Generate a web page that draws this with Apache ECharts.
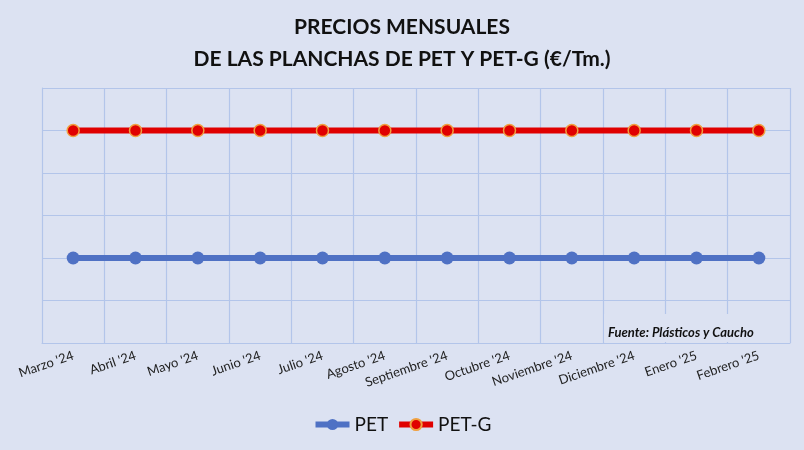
<!DOCTYPE html>
<html>
<head>
<meta charset="utf-8">
<script src="https://cdn.jsdelivr.net/npm/echarts@6/dist/echarts.min.js"></script>
<style>
  html, body { margin: 0; padding: 0; background: #dce2f2; }
  #chart { width: 804px; height: 450px; }
</style>
</head>
<body>
<div id="chart"></div>
<script>
// months shown on the x axis
const months = ["Marzo '24", "Abril '24", "Mayo '24", "Junio '24", "Julio '24", "Agosto '24",
  "Septiembre '24", "Octubre '24", "Noviembre '24", "Diciembre '24", "Enero '25", "Febrero '25"];

// price per series (€/Tm.), flat over the year
const pet = [2500, 2500, 2500, 2500, 2500, 2500, 2500, 2500, 2500, 2500, 2500, 2500];
const petG = [4000, 4000, 4000, 4000, 4000, 4000, 4000, 4000, 4000, 4000, 4000, 4000];

const gridColor = '#b3c5ea';
const font = 'Lato, "Noto Sans", sans-serif';

const chart = echarts.init(document.getElementById('chart'));

chart.setOption({
  backgroundColor: '#dce2f2',
  title: {
    text: 'PRECIOS MENSUALES\nDE LAS PLANCHAS DE PET Y PET-G (€/Tm.)',
    left: 'center',
    top: 6,
    textStyle: { fontFamily: font, fontSize: 21, fontWeight: 'bold', color: '#111', lineHeight: 32 }
  },
  legend: {
    bottom: 11,
    left: 'center',
    itemWidth: 34,
    itemHeight: 14,
    itemGap: 8,
    lineStyle: { width: 6 },
    textStyle: { fontFamily: font, fontSize: 19, color: '#111' },
    data: ['PET', 'PET-G']
  },
  grid: { left: 42, right: 14, top: 88, bottom: 107 },
  xAxis: {
    type: 'category',
    data: months,
    boundaryGap: true,
    axisLine: { lineStyle: { color: gridColor } },
    axisTick: { show: false },
    splitLine: { show: true, lineStyle: { color: gridColor, width: 1.2 } },
    axisLabel: {
      rotate: 19,
      margin: 12,
      interval: 0,
      fontFamily: font,
      fontSize: 13,
      color: '#222'
    }
  },
  yAxis: {
    type: 'value',
    min: 1500,
    max: 4500,
    interval: 500,
    axisLabel: { show: false },
    axisLine: { show: true, lineStyle: { color: gridColor } },
    axisTick: { show: false },
    splitLine: { lineStyle: { color: gridColor, width: 1.2 } }
  },
  series: [
    {
      name: 'PET',
      type: 'line',
      data: pet,
      symbol: 'circle',
      symbolSize: 13,
      lineStyle: { color: '#4f71c4', width: 6 },
      itemStyle: { color: '#4f71c4' }
    },
    {
      name: 'PET-G',
      type: 'line',
      data: petG,
      symbol: 'circle',
      symbolSize: 12,
      lineStyle: { color: '#e00000', width: 6 },
      itemStyle: { color: '#e00000', borderColor: '#f0a040', borderWidth: 1.5 }
    }
  ],
  graphic: [
    {
      type: 'rect',
      shape: { x: 604, y: 314, width: 164, height: 28 },
      style: { fill: '#dce2f2' },
      z: 10
    },
    {
      type: 'text',
      left: 608,
      top: 326,
      style: {
        text: 'Fuente: Plásticos y Caucho',
        font: 'italic bold 13px ' + font,
        fill: '#111'
      },
      z: 11
    }
  ]
});
</script>
</body>
</html>
